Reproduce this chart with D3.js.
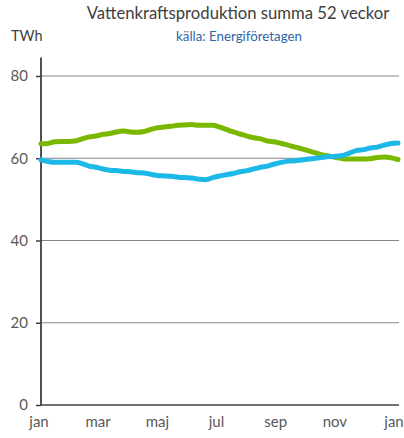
<!DOCTYPE html>
<html>
<head>
<meta charset="utf-8">
<script src="https://cdn.jsdelivr.net/npm/d3@7"></script>
<style>
body{margin:0;background:#fff;}
text{font-family:Lato,"Open Sans",sans-serif;}
</style>
</head>
<body>
<script>
// veckovärden, 52 veckor rullande summa (TWh)
var weeks = d3.range(53);
var greenSeries = [63.5,63.6,64.0,64.1,64.1,64.2,64.7,65.2,65.4,65.8,66.0,66.4,66.6,66.4,66.3,66.5,67.0,67.4,67.6,67.8,68.0,68.1,68.2,68.0,68.0,68.0,67.6,67.0,66.4,65.9,65.4,65.0,64.7,64.2,64.0,63.6,63.2,62.7,62.3,61.8,61.3,60.8,60.5,60.2,59.9,59.8,59.8,59.8,59.9,60.2,60.3,60.1,59.7];
var blueSeries = [59.6,59.2,59.0,59.0,59.0,59.0,58.7,58.1,57.8,57.4,57.1,57.0,56.8,56.7,56.5,56.4,56.1,55.8,55.7,55.6,55.4,55.3,55.2,54.9,54.8,55.3,55.7,56.0,56.3,56.7,57.0,57.4,57.8,58.1,58.6,59.0,59.3,59.4,59.6,59.8,60.0,60.2,60.4,60.5,60.7,61.3,61.9,62.1,62.5,62.7,63.2,63.6,63.7];
var monthLabels = ["jan","mar","maj","jul","sep","nov","jan"];
var monthTicks = [0,2,4,6,8,10,12];
var yTicks = [0,20,40,60,80];

var width = 404, height = 438;
var svg = d3.select("body").append("svg").attr("width",width).attr("height",height);

var x = d3.scaleLinear().domain([0,52]).range([41,398]);
var xm = d3.scaleLinear().domain([0,12]).range([39,394]);
var y = d3.scaleLinear().domain([0,80]).range([405,76]);

// rutnät
svg.append("g").selectAll("line")
    .data(yTicks.filter(function(d){return d>0;}))
    .enter().append("line")
    .attr("x1",41).attr("x2",399)
    .attr("y1",function(d){return y(d);}).attr("y2",function(d){return y(d);})
    .attr("stroke","#868686").attr("stroke-width",1);

// y-axel
var yAxis = d3.axisLeft(y).tickValues(yTicks).tickSize(5).tickPadding(9);
var gy = svg.append("g").attr("transform","translate(41,0)").call(yAxis);
gy.select(".domain").remove();
gy.selectAll(".tick line").attr("stroke","#404040").attr("stroke-width",1.5);
gy.selectAll(".tick text").attr("fill","#595959").style("font-size","15px").attr("x",-13);
svg.append("line").attr("x1",41).attr("x2",41).attr("y1",y(84.5)).attr("y2",y(0))
    .attr("stroke","#404040").attr("stroke-width",1.8);

// x-axel
svg.append("line").attr("x1",40).attr("x2",399).attr("y1",y(0)).attr("y2",y(0))
    .attr("stroke","#404040").attr("stroke-width",1.5);
svg.append("g").selectAll("text")
    .data(monthTicks)
    .enter().append("text")
    .attr("x",function(d){return xm(d);})
    .attr("y",427)
    .attr("text-anchor","middle")
    .attr("fill","#595959")
    .style("font-size","15px")
    .text(function(d,i){return monthLabels[i];});

// linjer
var line = d3.line()
    .x(function(d,i){return x(weeks[i]);})
    .y(function(d){return y(d);})
    .curve(d3.curveMonotoneX);

svg.append("path").attr("d",line(greenSeries))
    .attr("fill","none").attr("stroke","#7ab800").attr("stroke-width",5)
    .attr("stroke-linecap","round").attr("stroke-linejoin","round");
svg.append("path").attr("d",line(blueSeries))
    .attr("fill","none").attr("stroke","#1cb9e8").attr("stroke-width",5)
    .attr("stroke-linecap","round").attr("stroke-linejoin","round");

// titlar
svg.append("text").attr("x",238).attr("y",19).attr("text-anchor","middle")
    .attr("fill","#404040").style("font-size","16.7px")
    .text("Vattenkraftsproduktion summa 52 veckor");
svg.append("text").attr("x",239).attr("y",41).attr("text-anchor","middle")
    .attr("fill","#2e64a8").style("font-size","13.3px")
    .text("källa: Energiföretagen");
svg.append("text").attr("x",11).attr("y",41)
    .attr("fill","#404040").style("font-size","14.5px")
    .text("TWh");
</script>
</body>
</html>
